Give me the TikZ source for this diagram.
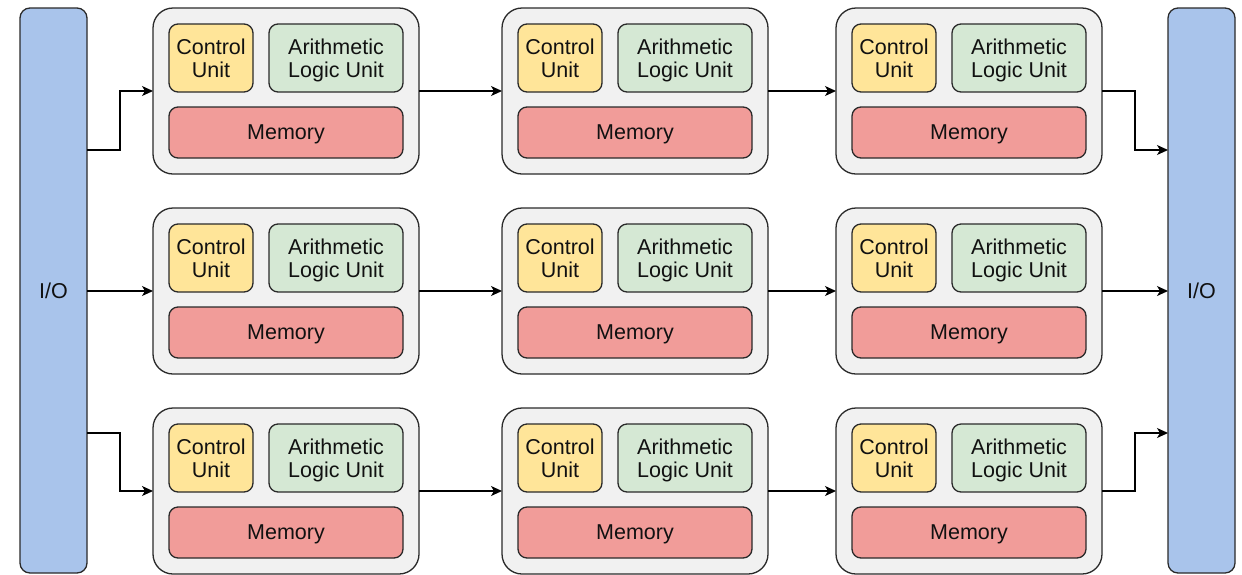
\documentclass[tikz,border=0pt]{standalone}
\usepackage{fontspec}
\setmainfont{Liberation Sans}
\usetikzlibrary{arrows.meta,calc}
\definecolor{iofill}{HTML}{A9C4EB}
\definecolor{boxfill}{HTML}{F1F1F1}
\definecolor{cufill}{HTML}{FFE599}
\definecolor{alufill}{HTML}{D5E8D4}
\definecolor{memfill}{HTML}{F19C99}
\definecolor{edge}{HTML}{2A2A2A}
\definecolor{txt}{HTML}{111111}
\tikzset{
  base/.style={draw=edge, line width=1.3pt, inner sep=0pt, outer sep=0pt, text=txt,
    font=\fontsize{21.5}{23.5}\selectfont, align=center, text depth=0pt},
  iobox/.style={base, fill=iofill, rounded corners=10pt, minimum width=67pt, minimum height=565pt},
  cpubox/.style={base, fill=boxfill, rounded corners=20pt, minimum width=266pt, minimum height=166pt},
  cubox/.style={base, fill=cufill, rounded corners=9pt, minimum width=84pt, minimum height=68pt},
  alubox/.style={base, fill=alufill, rounded corners=9pt, minimum width=134pt, minimum height=68pt},
  membox/.style={base, fill=memfill, rounded corners=9pt, minimum width=234pt, minimum height=51pt},
  arr/.style={draw=black, line width=1.3pt, -{Stealth[length=11pt,width=10pt,inset=3pt]}}
}
\begin{document}
\begin{tikzpicture}[x=1pt,y=-1pt]
\useasboundingbox (0,0) rectangle (1242,574);
\node[iobox] (ioL) at (53.5,290.5) {I/O};
\node[iobox] (ioR) at (1201.5,290.5) {I/O};
\foreach \r/\ry in {1/8,2/208,3/408}{
  \foreach \c/\cx in {1/153,2/502,3/836}{
    \node[cpubox] (b\r\c) at (\cx+133,\ry+83) {};
    \node[cubox] (cu\r\c) at (\cx+16+42,\ry+16+34) {Control\\Unit};
    \node[alubox] (alu\r\c) at (\cx+116+67,\ry+16+34) {Arithmetic\\Logic Unit};
    \node[membox] (mem\r\c) at (\cx+16+117,\ry+99+25.5) {Memory};
  }
}
\coordinate (xl) at (120,0);
\coordinate (xr) at (1135,0);
\coordinate (ya) at (0,150);
\coordinate (yc) at (0,433);
% row 1
\draw[arr] (ioL.east |- ya) -- (xl |- ya) |- (b11.west);
\draw[arr] (b11.east) -- (b12.west);
\draw[arr] (b12.east) -- (b13.west);
\draw[arr] (b13.east) -- (xr |- b13.east) |- (ioR.west |- ya);
% row 2
\draw[arr] (ioL.east |- b21.west) -- (b21.west);
\draw[arr] (b21.east) -- (b22.west);
\draw[arr] (b22.east) -- (b23.west);
\draw[arr] (b23.east) -- (ioR.west |- b23.east);
% row 3
\draw[arr] (ioL.east |- yc) -- (xl |- yc) |- (b31.west);
\draw[arr] (b31.east) -- (b32.west);
\draw[arr] (b32.east) -- (b33.west);
\draw[arr] (b33.east) -- (xr |- b33.east) |- (ioR.west |- yc);
\end{tikzpicture}
\end{document}
